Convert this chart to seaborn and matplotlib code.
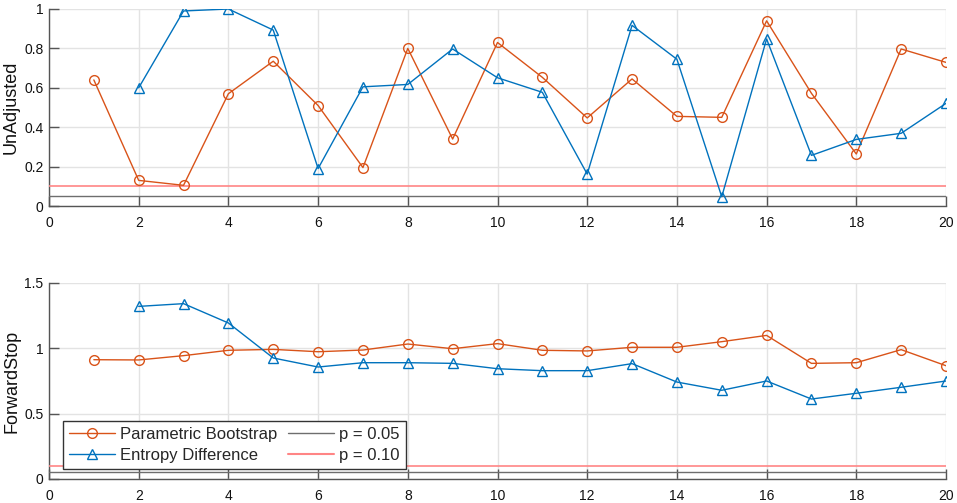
import numpy as np
import pandas as pd
import matplotlib
matplotlib.use("Agg")
import matplotlib.pyplot as plt
import seaborn as sns
from matplotlib.lines import Line2D

# ---- data ----
x_pb = list(range(1, 21))
x_ed = list(range(2, 21))

unadj_pb = [0.64, 0.13, 0.105, 0.57, 0.735, 0.51, 0.195, 0.80, 0.34, 0.83,
            0.653, 0.447, 0.645, 0.455, 0.45, 0.94, 0.572, 0.264, 0.797, 0.729]
unadj_ed = [0.60, 0.99, 1.00, 0.893, 0.19, 0.605, 0.617, 0.797, 0.651,
            0.577, 0.162, 0.917, 0.745, 0.047, 0.848, 0.257, 0.338, 0.369, 0.521]

fwd_pb = [0.913, 0.911, 0.944, 0.985, 0.992, 0.974, 0.987, 1.033, 0.997, 1.036,
          0.985, 0.98, 1.008, 1.008, 1.051, 1.099, 0.885, 0.89, 0.99, 0.867]
fwd_ed = [1.321, 1.342, 1.194, 0.926, 0.857, 0.89, 0.89, 0.885, 0.844,
          0.829, 0.829, 0.883, 0.742, 0.679, 0.75, 0.612, 0.656, 0.702, 0.75]

p_levels = [0.05, 0.10]
p_labels = ["p = 0.05", "p = 0.10"]
series_labels = ["Parametric Bootstrap", "Entropy Difference"]
panel_labels = ["UnAdjusted", "ForwardStop"]
x_ticks = list(range(0, 21, 2))

# ---- style ----
sns.set_theme(style="white")
plt.rcParams['font.family'] = ['Liberation Sans', 'DejaVu Sans']

ORANGE = "#D95319"
BLUE = "#0072BD"
P05_COLOR = "#6E6E6E"
P10_COLOR = "#FF8585"
AX_COLOR = "#555555"
GRID_COLOR = "#E3E3E3"
MS = 7

fig = plt.figure(figsize=(9.57, 5.03), dpi=100)
ax_top = fig.add_axes([49/957, 1 - 206/503, 897/957, 197/503])
ax_bot = fig.add_axes([49/957, 1 - 479/503, 897/957, 196/503])

panels = [
    (ax_top, unadj_pb, unadj_ed, (0, 1), [0, 0.2, 0.4, 0.6, 0.8, 1], ["0", "0.2", "0.4", "0.6", "0.8", "1"]),
    (ax_bot, fwd_pb, fwd_ed, (0, 1.5), [0, 0.5, 1, 1.5], ["0", "0.5", "1", "1.5"]),
]

for i, (ax, pb, ed, ylim, yt, ytl) in enumerate(panels):
    df_pb = pd.DataFrame({"x": x_pb, "y": pb})
    df_ed = pd.DataFrame({"x": x_ed, "y": ed})
    sns.lineplot(data=df_pb, x="x", y="y", ax=ax, color=ORANGE, lw=1.0,
                 marker="o", markersize=MS, markerfacecolor="none",
                 markeredgecolor=ORANGE, markeredgewidth=1.0, zorder=4)
    sns.lineplot(data=df_ed, x="x", y="y", ax=ax, color=BLUE, lw=1.0,
                 marker="^", markersize=MS, markerfacecolor="none",
                 markeredgecolor=BLUE, markeredgewidth=1.0, zorder=4)
    ax.axhline(p_levels[0], color=P05_COLOR, lw=1.0, zorder=3)
    ax.axhline(p_levels[1], color=P10_COLOR, lw=1.2, zorder=3)

    ax.set_xlim(0, 20)
    ax.set_ylim(*ylim)
    ax.set_xticks(x_ticks)
    ax.set_xticklabels([str(t) for t in x_ticks])
    ax.set_yticks(yt)
    ax.set_yticklabels(ytl)
    ax.grid(True, color=GRID_COLOR, lw=1.0)
    ax.set_axisbelow(True)
    ax.set_xlabel("")
    ax.set_ylabel(panel_labels[i], fontsize=13, labelpad=3, color="#111111")
    for s in ["top", "right"]:
        ax.spines[s].set_visible(False)
    for s in ["left", "bottom"]:
        ax.spines[s].set_color(AX_COLOR)
        ax.spines[s].set_linewidth(1.0)
    ax.tick_params(direction="in", length=7, width=1.0, color=AX_COLOR,
                   labelsize=10, labelcolor="#111111", bottom=True, left=True)
    ax.tick_params(axis="x", pad=7)
    ax.tick_params(axis="y", pad=4)

handles = [
    Line2D([], [], color=ORANGE, lw=1.0, marker="o", markersize=MS,
           markerfacecolor="none", markeredgecolor=ORANGE),
    Line2D([], [], color=BLUE, lw=1.0, marker="^", markersize=MS,
           markerfacecolor="none", markeredgecolor=BLUE),
    Line2D([], [], color=P05_COLOR, lw=1.0),
    Line2D([], [], color=P10_COLOR, lw=1.5),
]
leg = ax_bot.legend(handles, series_labels + p_labels, ncol=2,
                    loc="lower left", bbox_to_anchor=(0.0156, 0.051),
                    fontsize=12, frameon=True, fancybox=False, shadow=False,
                    framealpha=1.0, edgecolor="#333333", borderpad=0.35,
                    labelspacing=0.4, handlelength=2.8, handletextpad=0.3,
                    columnspacing=0.6, borderaxespad=0)
leg.get_frame().set_linewidth(1.0)
leg.set_zorder(10)

fig.savefig("out.png", dpi=100)
